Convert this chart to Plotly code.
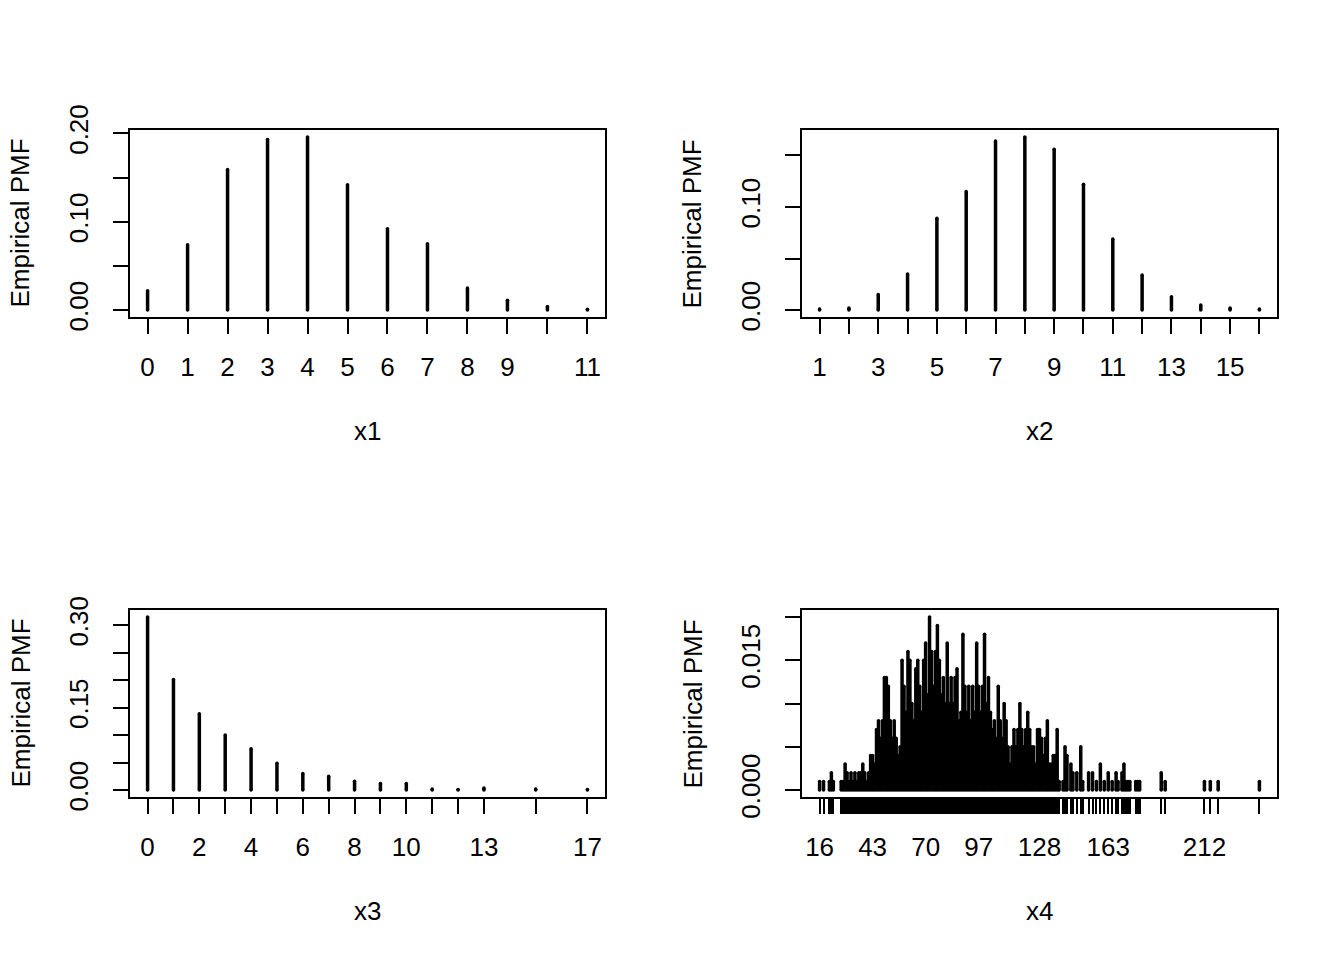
import plotly.graph_objects as go

# ---- data (empirical pmf, n = 1000) ----
x1_values = list(range(12))
x1_pmf = [0.022, 0.074, 0.159, 0.193, 0.196, 0.142, 0.092, 0.075, 0.025, 0.011, 0.004, 0.001]
x1_ticktext = ["0", "1", "2", "3", "4", "5", "6", "7", "8", "9", "", "11"]
x1_yticks = [0.0, 0.05, 0.10, 0.15, 0.20]
x1_yticktext = ["0.00", "", "0.10", "", "0.20"]

x2_values = list(range(1, 17))
x2_pmf = [0.001, 0.002, 0.015, 0.035, 0.089, 0.115, 0.164, 0.168,
          0.156, 0.122, 0.069, 0.034, 0.013, 0.005, 0.002, 0.001]
x2_ticktext = ["1", "", "3", "", "5", "", "7", "", "9", "", "11", "", "13", "", "15", ""]
x2_yticks = [0.0, 0.05, 0.10, 0.15]
x2_yticktext = ["0.00", "", "0.10", ""]

x3_values = [0, 1, 2, 3, 4, 5, 6, 7, 8, 9, 10, 11, 12, 13, 15, 17]
x3_pmf = [0.315, 0.201, 0.139, 0.100, 0.075, 0.049, 0.030, 0.025,
          0.016, 0.012, 0.012, 0.002, 0.001, 0.004, 0.002, 0.001]
x3_ticktext = ["0", "", "2", "", "4", "", "6", "", "8", "", "10", "", "", "13", "", "17"]
x3_yticks = [0.0, 0.05, 0.10, 0.15, 0.20, 0.25, 0.30]
x3_yticktext = ["0.00", "", "", "0.15", "", "", "0.30"]

x4_values = [16, 18, 21, 22, 23, 27, 28, 29, 30, 31, 32, 33, 34, 35, 36, 37, 38, 39, 40, 41,
             42, 43, 44, 45, 46, 47, 48, 49, 50, 51, 52, 53, 54, 55, 56, 57, 58, 59, 60, 61,
             62, 63, 64, 65, 66, 67, 68, 69, 70, 71, 72, 73, 74, 75, 76, 77, 78, 79, 80, 81,
             82, 83, 84, 85, 86, 87, 88, 89, 90, 91, 92, 93, 94, 95, 96, 97, 98, 99, 100, 101,
             102, 103, 104, 105, 106, 107, 108, 109, 110, 111, 112, 113, 114, 115, 116, 117, 118, 119, 120, 121,
             122, 123, 124, 125, 126, 127, 128, 129, 130, 131, 132, 133, 134, 135, 136, 137, 138, 140, 141, 142,
             144, 145, 147, 149, 150, 153, 155, 157, 159, 161, 163, 165, 167, 168, 170, 171, 172, 173, 174, 177,
             178, 179, 190, 192, 212, 215, 219, 240]
x4_counts = [1, 1, 1, 2, 1, 1, 1, 3, 2, 1, 2, 1, 2, 1, 2, 2, 3, 2, 1, 2,
             4, 4, 3, 7, 8, 6, 8, 13, 13, 12, 8, 6, 8, 6, 4, 5, 15, 12, 9, 16,
             15, 10, 8, 14, 15, 12, 9, 15, 17, 11, 20, 16, 12, 16, 19, 15, 11, 13, 10, 17,
             10, 13, 10, 13, 14, 8, 9, 18, 12, 9, 12, 8, 12, 9, 17, 12, 9, 12, 18, 10,
             13, 9, 7, 8, 6, 12, 8, 6, 10, 8, 5, 3, 5, 7, 5, 7, 10, 7, 5, 7,
             9, 7, 5, 5, 3, 7, 7, 6, 4, 6, 8, 3, 3, 4, 4, 7, 1, 1, 5, 4,
             3, 2, 2, 5, 1, 2, 2, 1, 3, 1, 2, 1, 2, 1, 2, 3, 1, 1, 1, 1,
             1, 1, 2, 1, 1, 1, 1, 1]
x4_n = 1000
x4_labelled = [16, 43, 70, 97, 128, 163, 212]
x4_yticks = [0.0, 0.005, 0.010, 0.015, 0.020]
x4_yticktext = ["0.000", "", "", "0.015", ""]

x4_pmf = [c / x4_n for c in x4_counts]
x4_ticktext = [str(v) if v in x4_labelled else "" for v in x4_values]

panels = [
    ("x1", x1_values, x1_pmf, x1_ticktext, x1_yticks, x1_yticktext),
    ("x2", x2_values, x2_pmf, x2_ticktext, x2_yticks, x2_yticktext),
    ("x3", x3_values, x3_pmf, x3_ticktext, x3_yticks, x3_yticktext),
    ("x4", x4_values, x4_pmf, x4_ticktext, x4_yticks, x4_yticktext),
]

# ---- layout geometry (pixels of the 1344x960 window) ----
W, H = 1344, 960
boxes = [(130, 605, 130, 317), (802, 1277, 130, 317),
         (130, 605, 610, 797), (802, 1277, 610, 797)]
FONT = "Liberation Sans, Arial, sans-serif"
LW = 3.5

fig = go.Figure()
layout = dict(width=W, height=H, margin=dict(l=0, r=0, t=0, b=0, autoexpand=False),
              paper_bgcolor="white", plot_bgcolor="white", showlegend=False,
              font=dict(family=FONT, size=26, color="black"), annotations=[])

for i, (name, xs, ys, xtext, yt, ytext) in enumerate(panels):
    k = "" if i == 0 else str(i + 1)
    left, right, top, bottom = boxes[i]

    # vertical segments (type = "h"), ends as round caps via small markers
    lx, ly = [], []
    for x, y in zip(xs, ys):
        lx += [x, x, None]
        ly += [0, y, None]
    fig.add_trace(go.Scatter(x=lx, y=ly, mode="lines+markers",
                             line=dict(color="black", width=LW),
                             marker=dict(color="black", size=LW, line=dict(width=0)),
                             hoverinfo="skip", xaxis="x" + k, yaxis="y" + k))

    # R style 4 % padding
    xlo, xhi = min(xs), max(xs)
    ylo, yhi = 0, max(ys)
    dx, dy = 0.04 * (xhi - xlo), 0.04 * (yhi - ylo)

    common = dict(showgrid=False, zeroline=False, showline=True, mirror=True,
                  linecolor="black", linewidth=1.5, ticks="outside", ticklen=15,
                  tickwidth=1.5, tickcolor="black", automargin=False,
                  tickfont=dict(family=FONT, size=26, color="black"))
    layout["xaxis" + k] = dict(common, domain=[left / W, right / W],
                               range=[xlo - dx, xhi + dx], tickmode="array",
                               tickvals=xs, ticktext=xtext, anchor="y" + k,
                               ticklabelstandoff=11)
    layout["yaxis" + k] = dict(common, domain=[1 - bottom / H, 1 - top / H],
                               range=[ylo - dy, yhi + dy], tickmode="array",
                               tickvals=yt, ticktext=ytext, tickangle=-90,
                               anchor="x" + k, ticklabelstandoff=15)

    cx = (left + right) / 2
    cy = (top + bottom) / 2
    layout["annotations"].append(dict(text=name, x=cx / W, y=1 - (bottom + 114) / H,
                                      xref="paper", yref="paper", showarrow=False,
                                      xanchor="center", yanchor="middle",
                                      font=dict(family=FONT, size=26, color="black")))
    layout["annotations"].append(dict(text="Empirical PMF", x=(left - 110) / W, y=1 - cy / H,
                                      xref="paper", yref="paper", showarrow=False,
                                      textangle=-90, xanchor="center", yanchor="middle",
                                      font=dict(family=FONT, size=26, color="black")))

fig.update_layout(**layout)
# the page's default 8px body margin would push the figure off the window
fig.write_html("out.html", config={"displayModeBar": False},
               post_script="document.body.style.margin = '0';")
